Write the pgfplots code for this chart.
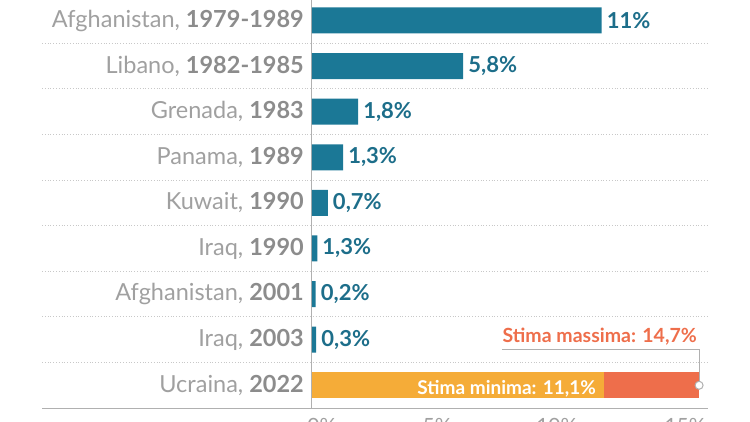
\documentclass[border=0pt]{standalone}
\usepackage{pgfplots}
\pgfplotsset{compat=1.18}
\usepackage{fontspec}
\setmainfont{Lato}
\definecolor{teal1}{HTML}{1B7896}
\definecolor{tealtxt}{HTML}{1D6E8A}
\definecolor{orng}{HTML}{F5AC38}
\definecolor{coral}{HTML}{EE6E4B}
\definecolor{lblgray}{HTML}{A0A0A0}
\definecolor{boldgray}{HTML}{8C8C8C}
\definecolor{gridgray}{HTML}{C8C8C8}
\definecolor{axgray}{HTML}{B0B0B0}
\newcommand{\yr}[1]{\textcolor{boldgray}{\textbf{#1}}}
\begin{document}
\begin{tikzpicture}
\begin{axis}[
  scale only axis,
  width=395bp, height=410.4bp,
  xmin=0, xmax=15, ymin=-0.5, ymax=8.5,
  y dir=reverse,
  clip=false,
  axis line style={draw=none},
  major tick length=0pt,
  xbar, bar width=26bp, bar shift=0pt,
  ytick={0,1,2,3,4,5,6,7,8},
  yticklabels={{Afghanistan, \yr{1979-1989}},{Libano, \yr{1982-1985}},{Grenada, \yr{1983}},{Panama, \yr{1989}},{Kuwait, \yr{1990}},{Iraq, \yr{1990}},{Afghanistan, \yr{2001}},{Iraq, \yr{2003}},{Ucraina, \yr{2022}}},
  yticklabel style={anchor=east, inner sep=0pt, xshift=-8bp, font=\fontsize{23.5bp}{27bp}\selectfont, text=lblgray},
  xtick={0.38,4.75,9.3,14.17},
  xticklabels={0\%,5\%,10\%,15\%},
  xticklabel style={anchor=north, inner sep=0pt, yshift=-10bp, font=\fontsize{21bp}{24bp}\selectfont, text=lblgray},
]
% grid lines
\foreach \g in {0.5,1.5,2.5,3.5,4.5,5.5,6.5,7.5}{
  \edef\tmp{\noexpand\draw[gridgray, line width=0.8bp, dotted] (axis cs:-10.25,\g) -- (axis cs:15.05,\g);}\tmp
}
\draw[axgray, line width=1bp] (axis cs:-10.25,8.5) -- (axis cs:15.05,8.5);
\draw[axgray, line width=1bp] (axis cs:0,-0.5) -- (axis cs:0,8.5);

\addplot[fill=teal1, draw=none, point meta=explicit symbolic,
  nodes near coords,
  nodes near coords style={anchor=west, inner sep=0pt, xshift=5bp, text=tealtxt, font=\bfseries\fontsize{22bp}{25bp}\selectfont}]
coordinates {
(11,0) [11\%]
(5.74,1) [5,8\%]
(1.75,2) [1,8\%]
(1.18,3) [1,3\%]
(0.6,4) [0,7\%]
(0.2,5) [1,3\%]
(0.14,6) [0,2\%]
(0.16,7) [0,3\%]
};
\addplot[fill=coral, draw=none] coordinates {(14.7,8)};
\addplot[fill=orng, draw=none] coordinates {(11.1,8)};

\draw[axgray, line width=1bp] (axis cs:7.215,7.204) -- (axis cs:14.7,7.204) -- (axis cs:14.7,8);
\addplot[only marks, mark=*, mark size=4bp, mark options={fill=white, draw=axgray, line width=1bp}] coordinates {(14.7,8)};

\node[anchor=base east, inner sep=0pt, text=coral, font=\bfseries\fontsize{19.5bp}{22bp}\selectfont] at (axis cs:14.62,7.072) {Stima massima: 14,7\%};
\node[anchor=base east, inner sep=0pt, text=white, font=\bfseries\fontsize{19bp}{22bp}\selectfont] at (axis cs:10.785,8.191) {Stima minima: 11,1\%};

\coordinate (bbl) at (axis cs:-11.848,8.8048);
\coordinate (bbr) at (axis cs:16.633,-0.4496);
\end{axis}
\pgfresetboundingbox
\path[use as bounding box] (bbl) rectangle (bbr);
\end{tikzpicture}
\end{document}
